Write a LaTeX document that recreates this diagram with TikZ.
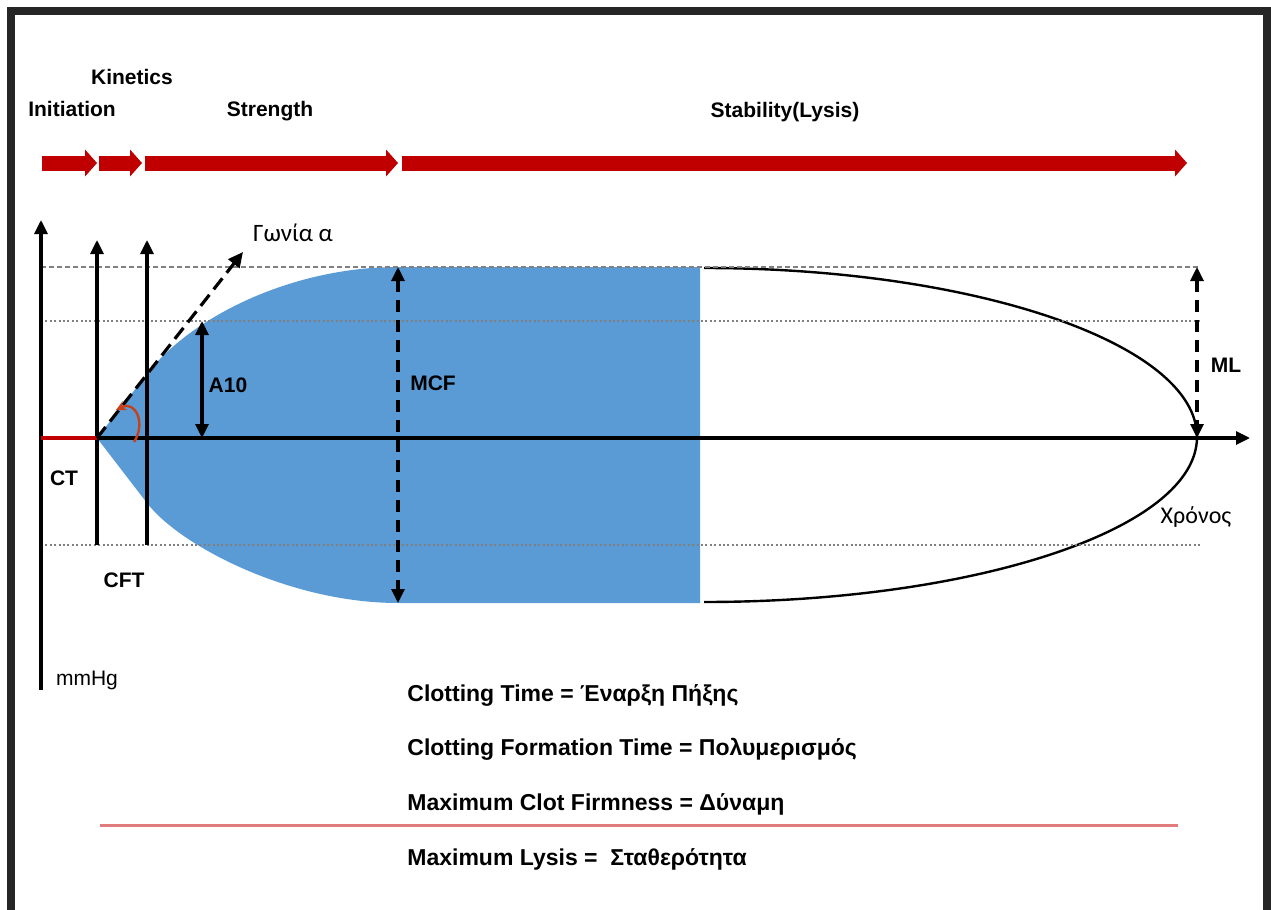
\documentclass[tikz,border=0pt]{standalone}
\usepackage{fontspec}
\setmainfont{Liberation Sans}
\newfontfamily\calfont{Carlito}
\usetikzlibrary{arrows.meta,positioning}
\definecolor{phasered}{HTML}{C00000}
\definecolor{clotblue}{HTML}{5B9BD5}
\definecolor{framegray}{HTML}{262626}
\definecolor{rulered}{HTML}{E07C7C}
\definecolor{anglered}{HTML}{C8401A}
\tikzset{
  tip/.style={},
  phasearrow/.style={phasered, line width=7.5pt, -{Triangle[width=13.5pt,length=6pt,line width=0pt]}},
  axisline/.style={line width=1.6pt, -{Triangle[width=6.5pt,length=7pt]}},
  guide/.style={gray, line width=0.6pt, dash pattern=on 2.5pt off 1.5pt},
  dotguide/.style={gray, line width=0.6pt, dash pattern=on 1pt off 1.2pt},
  measure/.style={line width=1.6pt, dash pattern=on 6pt off 4pt,
    {Triangle[width=6.5pt,length=7pt]}-{Triangle[width=6.5pt,length=7pt]}},
  phaselbl/.style={font=\fontsize{10.5}{12}\selectfont\bfseries, inner sep=0pt, anchor=base},
  lbl/.style={font=\fontsize{10.5}{12}\selectfont\bfseries, inner sep=0pt},
  thinlbl/.style={font=\fontsize{10.5}{12}\selectfont, inner sep=0pt},
  legendtxt/.style={font=\fontsize{11.5}{14}\selectfont\bfseries, inner sep=0pt, anchor=base west}
}
\begin{document}
\begin{tikzpicture}[x=0.5pt,y=-0.5pt]
\useasboundingbox (0,0) rectangle (1271,910);
% frame, open at the bottom
\draw[framegray, line width=4pt] (11,910) -- (11,11) -- (1267,11) -- (1267,910);

% phases
\coordinate (p0) at (42,163);
\coordinate (p1) at (97,163);
\coordinate (p2) at (99,163);
\coordinate (p3) at (142,163);
\coordinate (p4) at (145,163);
\coordinate (p5) at (398,163);
\coordinate (p6) at (402,163);
\coordinate (p7) at (1187,163);
\draw[phasearrow] (p0) -- (p1);
\draw[phasearrow] (p2) -- (p3);
\draw[phasearrow] (p4) -- (p5);
\draw[phasearrow] (p6) -- (p7);
\node[phaselbl] (init) at (72,116) {Initiation};
\node[phaselbl] (kin) at (132,84) {Kinetics};
\node[phaselbl] (str) at (270,116) {Strength};
\node[phaselbl] (stab) at (785,117) {Stability(Lysis)};

% clot body
\fill[clotblue] (97,438) -- (147,374)
  .. controls (190,318) and (290,267) .. (398,267)
  -- (700,267) -- (700,603) -- (398,603)
  .. controls (290,603) and (180,546) .. (147,503) -- cycle;
% lysis
\draw[line width=1.2pt] (704,268) .. controls (975,268) and (1197,344) .. (1197,437)
  .. controls (1197,529) and (975,602) .. (704,602);

% guides
\coordinate (g1a) at (41,267);  \coordinate (g1b) at (1200,267);
\coordinate (g2a) at (41,321);  \coordinate (g2b) at (1200,321);
\coordinate (g3a) at (41,545);  \coordinate (g3b) at (1200,545);
\draw[guide] (g1a) -- (g1b);
\draw[dotguide] (g2a) -- (g2b);
\draw[dotguide] (g3a) -- (g3b);

% axes
\coordinate (yb) at (41,690);   \coordinate (yt) at (41,220);
\coordinate (xo) at (41,438);   \coordinate (xe) at (1250,438);
\coordinate (ct) at (97,438);
\coordinate (ctb) at (97,545);  \coordinate (ctt) at (97,240);
\coordinate (cftb) at (147,545); \coordinate (cftt) at (147,240);
\draw[axisline] (yb) -- (yt);
\draw[axisline] (xo) -- (xe);
\draw[axisline] (ctb) -- (ctt);
\draw[axisline] (cftb) -- (cftt);
\draw[phasered, line width=1.8pt] (xo) -- (ct);

% angle
\coordinate (alpha) at (243,252);
\draw[line width=1.6pt, dash pattern=on 7pt off 3.5pt, -{Triangle[width=7pt,length=7.5pt]}] (ct) -- (alpha);
\coordinate (arcA) at (134,442);
\coordinate (arcB) at (116,410);
\draw[anglered, line width=1.2pt, -{Stealth[length=5pt,width=5pt]}] (arcA) .. controls (146,424) and (136,400) .. (arcB);
\node[font=\calfont\fontsize{12.5}{14}\selectfont, inner sep=0pt] (alphalbl) at (293,233) {Γωνία α};

% measures
\coordinate (a10t) at (202,321); \coordinate (a10b) at (202,438);
\draw[line width=1.6pt, {Triangle[width=6.5pt,length=7pt]}-{Triangle[width=6.5pt,length=7pt]}] (a10t) -- (a10b);
\coordinate (mcft) at (398,267); \coordinate (mcfb) at (398,603);
\draw[measure] (mcft) -- (mcfb);
\coordinate (mlt) at (1197,267); \coordinate (mlb) at (1197,438);
\draw[measure] (mlt) -- (mlb);

\node[lbl] (a10) at (228,385) {A10};
\node[lbl] (mcf) at (433,383) {MCF};
\node[lbl] (ml) at (1226,365) {ML};
\node[lbl] (ctl) at (64,478) {CT};
\node[lbl] (cftl) at (124,580) {CFT};
\node[thinlbl] (mmhg) at (87,680) {mmHg};
\node[font=\calfont\fontsize{12}{14}\selectfont, inner sep=0pt] (time) at (1196,517) {Χρόνος};

% legend
\node[legendtxt] (l1) at (407,701) {Clotting Time = Έναρξη Πήξης};
\node[legendtxt] (l2) at (407,755) {Clotting Formation Time = Πολυμερισμός};
\node[legendtxt] (l3) at (407,810) {Maximum Clot Firmness = Δύναμη};
\coordinate (ra) at (100,825); \coordinate (rb) at (1178,825);
\draw[rulered, line width=1.5pt] (ra) -- (rb);
\node[legendtxt] (l4) at (407,865) {Maximum Lysis =\ \ Σταθερότητα};
\end{tikzpicture}
\end{document}
